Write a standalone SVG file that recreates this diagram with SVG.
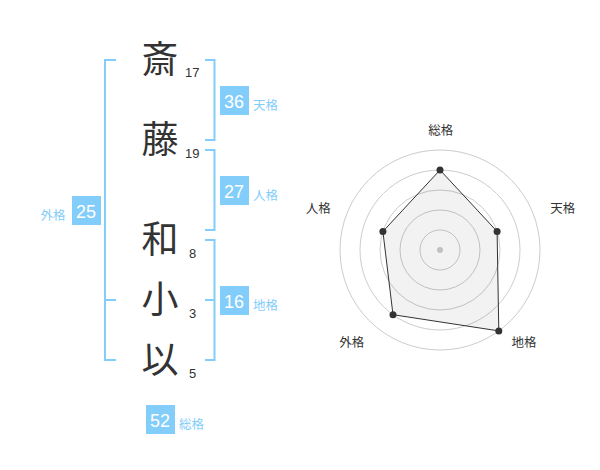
<svg xmlns="http://www.w3.org/2000/svg" width="600" height="470" viewBox="0 0 600 470">
<style>
.ch{font-family:"Noto Sans CJK JP","Noto Sans CJK SC",sans-serif;font-size:37px;fill:#333;text-anchor:middle}
.st{font-family:"Liberation Sans",Arial,sans-serif;font-size:13px;fill:#333}
.box{fill:#82cdf9}
.bn{font-family:"Liberation Sans",Arial,sans-serif;font-size:18px;fill:#fff;text-anchor:middle}
.bl{font-family:"Noto Sans CJK JP","Noto Sans CJK SC",sans-serif;font-size:12.5px;fill:#82cdf9}
.br{fill:none;stroke:#82cdf9;stroke-width:2}
.ring{fill:none;stroke:#ccc;stroke-width:1}
.rl{font-family:"Noto Sans CJK JP","Noto Sans CJK SC",sans-serif;font-size:12.5px;fill:#333;text-anchor:middle}
.dot{fill:#333}
</style>
<rect width="600" height="470" fill="#fff"/>
<g id="connectors">
<path class="br" d="M116,60 H105 V360 H116 M105,300 H116"/>
<path class="br" d="M205,60 H214.5 V140 H205"/>
<path class="br" d="M205,150 H214.5 V230 H205"/>
<path class="br" d="M205,240 H214.5 V360 H205 M205,300 H214.5"/>
</g>
<g id="char-sai"><text class="ch" x="160" y="73">斎</text><text class="st" x="185" y="77">17</text></g>
<g id="char-tou"><text class="ch" x="160" y="153">藤</text><text class="st" x="185" y="158">19</text></g>
<g id="char-wa"><text class="ch" x="160" y="253">和</text><text class="st" x="189" y="258">8</text></g>
<g id="char-ko"><text class="ch" x="160" y="313">小</text><text class="st" x="189" y="318">3</text></g>
<g id="char-i"><text class="ch" x="160" y="373">以</text><text class="st" x="189" y="378">5</text></g>
<g id="tenkaku"><rect class="box" x="220" y="86" width="29" height="29"/><text class="bn" x="234" y="107.5">36</text><text class="bl" x="253" y="109.5">天格</text></g>
<g id="jinkaku"><rect class="box" x="220" y="176" width="29" height="29"/><text class="bn" x="234" y="197.5">27</text><text class="bl" x="253" y="199.5">人格</text></g>
<g id="chikaku"><rect class="box" x="220" y="286" width="29" height="29"/><text class="bn" x="234" y="307.5">16</text><text class="bl" x="253" y="309.5">地格</text></g>
<g id="gaikaku"><rect class="box" x="72" y="196" width="29" height="29"/><text class="bn" x="86" y="217.5">25</text><text class="bl" x="40.5" y="219.5">外格</text></g>
<g id="soukaku"><rect class="box" x="146" y="405" width="29" height="29"/><text class="bn" x="160" y="426.5">52</text><text class="bl" x="179" y="428.5">総格</text></g>
<g id="radar">
<circle class="ring" cx="440" cy="250" r="20"/>
<circle class="ring" cx="440" cy="250" r="40"/>
<circle class="ring" cx="440" cy="250" r="60"/>
<circle class="ring" cx="440" cy="250" r="80"/>
<circle class="ring" cx="440" cy="250" r="100"/>
<circle cx="440" cy="250" r="3" fill="#ccc"/>
<polygon points="440,170 497.1,231.5 498.8,330.9 393,314.7 382.9,231.5" fill="#000" fill-opacity="0.05" stroke="#333" stroke-width="1"/>
<circle class="dot" cx="440" cy="170" r="3.5"/>
<circle class="dot" cx="497.1" cy="231.5" r="3.5"/>
<circle class="dot" cx="498.8" cy="330.9" r="3.5"/>
<circle class="dot" cx="393" cy="314.7" r="3.5"/>
<circle class="dot" cx="382.9" cy="231.5" r="3.5"/>
<text class="rl" x="440.7" y="134.5">総格</text>
<text class="rl" x="562.7" y="212.8">天格</text>
<text class="rl" x="524" y="346.5">地格</text>
<text class="rl" x="351.7" y="346.5">外格</text>
<text class="rl" x="318.3" y="212.8">人格</text>
</g>
</svg>
